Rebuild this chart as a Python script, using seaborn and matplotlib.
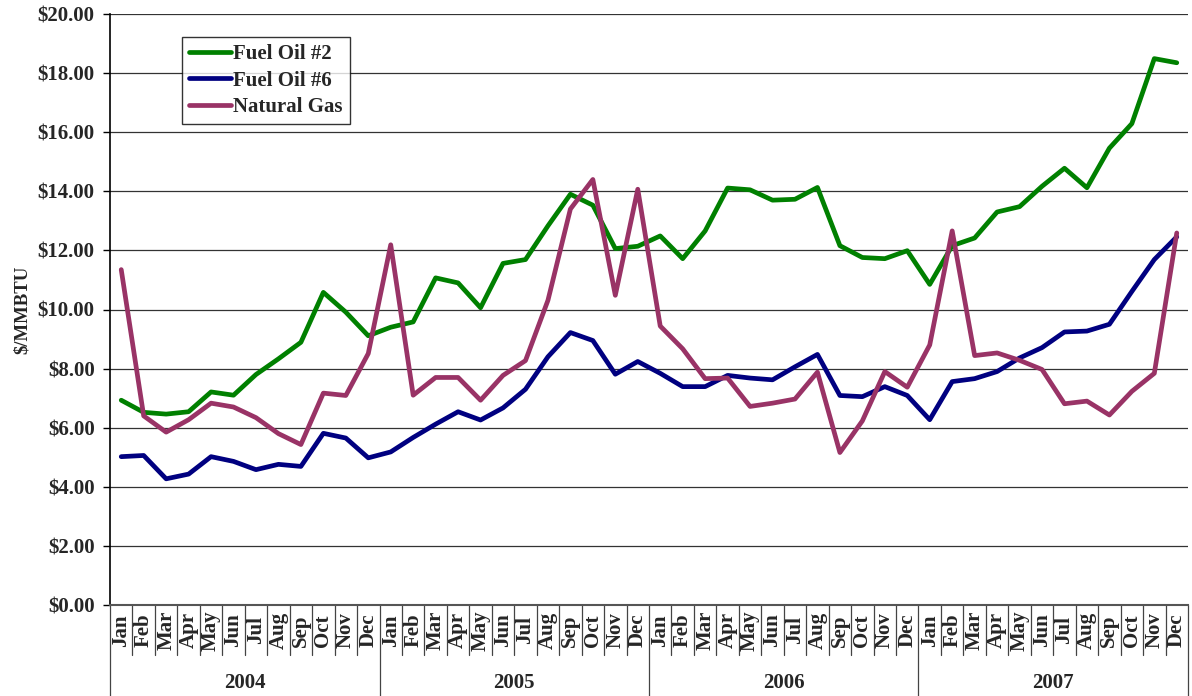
import numpy as np
import pandas as pd
import matplotlib
matplotlib.use("Agg")
import matplotlib.pyplot as plt
import matplotlib.transforms as mtransforms
import seaborn as sns

# monthly prices, $/MMBTU, Jan 2004 - Dec 2007
years = ['2004', '2005', '2006', '2007']
months = ['Jan', 'Feb', 'Mar', 'Apr', 'May', 'Jun',
          'Jul', 'Aug', 'Sep', 'Oct', 'Nov', 'Dec']

fuel_oil_2 = [6.93, 6.52, 6.46, 6.54, 7.21, 7.10, 7.80, 8.33, 8.89, 10.58, 9.91, 9.11,
              9.40, 9.58, 11.07, 10.90, 10.06, 11.56, 11.69, 12.83, 13.90, 13.53, 12.06, 12.14,
              12.49, 11.72, 12.66, 14.11, 14.05, 13.70, 13.73, 14.13, 12.16, 11.76, 11.72, 11.99,
              10.85, 12.16, 12.42, 13.30, 13.48, 14.17, 14.78, 14.12, 15.46, 16.29, 18.49, 18.35]

fuel_oil_6 = [5.02, 5.06, 4.27, 4.43, 5.02, 4.86, 4.58, 4.76, 4.69, 5.81, 5.65, 4.98,
              5.18, 5.67, 6.12, 6.54, 6.26, 6.67, 7.30, 8.40, 9.22, 8.95, 7.81, 8.24,
              7.84, 7.39, 7.39, 7.77, 7.68, 7.62, 8.06, 8.48, 7.09, 7.05, 7.39, 7.09,
              6.27, 7.56, 7.66, 7.90, 8.36, 8.71, 9.24, 9.27, 9.50, 10.61, 11.69, 12.46]

natural_gas = [11.35, 6.40, 5.85, 6.27, 6.83, 6.70, 6.34, 5.80, 5.43, 7.17, 7.09, 8.51,
               12.19, 7.10, 7.70, 7.70, 6.93, 7.77, 8.27, 10.31, 13.40, 14.40, 10.48, 14.07,
               9.44, 8.67, 7.66, 7.68, 6.72, 6.83, 6.97, 7.88, 5.16, 6.23, 7.90, 7.37,
               8.80, 12.66, 8.44, 8.53, 8.28, 7.97, 6.81, 6.90, 6.43, 7.23, 7.84, 12.59]

series_names = ['Fuel Oil #2', 'Fuel Oil #6', 'Natural Gas']
colors = ['#008000', '#000080', '#993366']

n = len(fuel_oil_2)
df = pd.DataFrame({
    'idx': np.tile(np.arange(n), 3),
    'price': fuel_oil_2 + fuel_oil_6 + natural_gas,
    'fuel': np.repeat(series_names, n),
})

sns.set_style('white')
plt.rcParams['font.family'] = ['Liberation Serif', 'DejaVu Serif']
plt.rcParams['font.weight'] = 'bold'

fig = plt.figure(figsize=(11.92, 6.96), dpi=100)
ax = fig.add_axes([110 / 1192, 1 - 605 / 696, 1078 / 1192, 591 / 696])

sns.lineplot(data=df, x='idx', y='price', hue='fuel', hue_order=series_names,
             palette=colors, linewidth=3.4, legend=False, ax=ax)

ax.set_xlim(-0.5, n - 0.5)
ax.set_ylim(0, 20)
ax.set_yticks(np.arange(0, 21, 2))
ax.set_yticklabels(['$%.2f' % v for v in np.arange(0, 21, 2)], fontsize=15, fontweight='bold')
ax.tick_params(axis='y', direction='out', length=5, width=1, color='black', pad=6, left=True)
ax.set_xticks([])
ax.set_xlabel('')
ax.set_ylabel('$/MMBTU', fontsize=13.5, fontweight='bold', labelpad=5)
ax.yaxis.grid(True, color='#333333', linewidth=0.9)
ax.set_axisbelow(True)

for s in ['top', 'right']:
    ax.spines[s].set_visible(False)
ax.spines['left'].set_color('black')
ax.spines['left'].set_linewidth(1.2)
ax.spines['bottom'].set_color('#555555')
ax.spines['bottom'].set_linewidth(1.5)

leg = ax.legend(handles=ax.lines[:3], labels=series_names, loc='upper left',
                bbox_to_anchor=(0.0668, 0.961), borderaxespad=0, frameon=True,
                fancybox=False, edgecolor='black', fontsize=15, handlelength=2.0,
                handletextpad=0.1, labelspacing=0.3, borderpad=0.35)
leg.get_frame().set_linewidth(1)
for t in leg.get_texts():
    t.set_fontweight('bold')

# category axis: month labels, year labels and separators
trans = mtransforms.blended_transform_factory(ax.transData, ax.transAxes)
for i in range(n):
    ax.text(i, -0.043, months[i % 12], transform=trans, rotation=90,
            ha='center', va='center', fontsize=15, fontweight='bold')
for i in range(n + 1):
    bottom = -0.154 if i % 12 == 0 else -0.085
    ax.plot([i - 0.5, i - 0.5], [0, bottom], transform=trans, color='#444444',
            linewidth=0.9, clip_on=False)
for k, yr in enumerate(years):
    ax.text(k * 12 + 5.5, -0.132, yr, transform=trans, ha='center', va='center',
            fontsize=15, fontweight='bold')

fig.savefig('out.png', dpi=100)
